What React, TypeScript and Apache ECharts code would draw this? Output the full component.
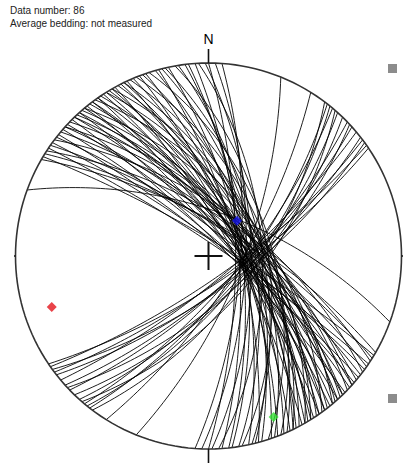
import React, { useEffect, useRef } from "react";
import * as echarts from "echarts";

// Header texts
const headerLines = ["Data number: 86", "Average bedding: not measured"];
const northLabel = "N";

// Planes, NW-SE striking family (dip direction in degrees, dip in degrees)
const familyOneDipDirections = [
  30, 31, 33, 34, 35, 36, 37, 38, 39, 40, 41, 42, 42, 43, 44, 45, 46, 46, 47, 48,
  49, 50, 50, 51, 52, 53, 54, 55, 55, 56, 57, 58, 59, 60, 60, 61, 62, 63, 64, 65,
  66, 67, 68, 69, 70, 71, 72, 74, 75, 77, 78, 80, 81, 83, 84, 86, 87, 89, 90, 92,
  94, 32, 48, 53, 58, 64, 76,
];
const familyOneDips = [
  71, 81, 67, 83, 73, 81, 64, 76, 82, 69, 80, 65, 72, 77, 64, 81, 68, 74, 65, 78,
  64, 73, 60, 77, 67, 74, 58, 70, 77, 64, 74, 60, 67, 71, 58, 76, 63, 69, 60, 73,
  59, 69, 56, 72, 62, 70, 54, 66, 72, 59, 70, 56, 63, 68, 70, 72, 59, 65, 74, 68,
  71, 72, 69, 70, 71, 67, 62,
];

// Planes, NE-SW striking family
const familyTwoDipDirections = [
  112, 122, 127, 128, 129, 130, 131, 132, 134, 136, 137, 138, 140, 142, 143, 144, 145, 146,
];
const familyTwoDips = [
  70, 72, 64, 70, 67, 72, 62, 68, 66, 72, 66, 72, 76, 71, 75, 70, 77, 74,
];

// Isolated plane
const otherDipDirections = [20];
const otherDips = [64];

// Point markers (trend, plunge)
const markerNames = ["blue", "red", "green"];
const markerTrends = [39, 252, 158];
const markerPlunges = [63.6, 9, 6];

const RAD = Math.PI / 180;

function projectLine(trend: number, plunge: number): [number, number] {
  const p = plunge * RAD;
  const t = trend * RAD;
  const n = Math.cos(p) * Math.cos(t);
  const e = Math.cos(p) * Math.sin(t);
  const z = Math.sin(p);
  return [e / (1 + z), n / (1 + z)];
}

function greatCircle(dd: number, dip: number): [number, number][] {
  const s = (dd - 90) * RAD;
  const a = dd * RAD;
  const d = dip * RAD;
  const S = [Math.cos(s), Math.sin(s), 0];
  const D = [Math.cos(d) * Math.cos(a), Math.cos(d) * Math.sin(a), Math.sin(d)];
  const pts: [number, number][] = [];
  for (let k = 0; k <= 180; k += 2) {
    const c = Math.cos(k * RAD);
    const sn = Math.sin(k * RAD);
    const n = c * S[0] + sn * D[0];
    const e = c * S[1] + sn * D[1];
    const z = Math.max(0, c * S[2] + sn * D[2]);
    pts.push([e / (1 + z), n / (1 + z)]);
  }
  return pts;
}

function primitive(): [number, number][] {
  const pts: [number, number][] = [];
  for (let k = 0; k <= 360; k += 2) pts.push([Math.sin(k * RAD), Math.cos(k * RAD)]);
  return pts;
}

export default function App() {
  const ref = useRef<HTMLDivElement>(null);
  useEffect(() => {
    if (!ref.current) return;
    const chart = echarts.init(ref.current, undefined, { renderer: "svg" });

    const dds = [...familyOneDipDirections, ...familyTwoDipDirections, ...otherDipDirections];
    const dips = [...familyOneDips, ...familyTwoDips, ...otherDips];

    const planeSeries = dds.map((dd, i) => ({
      type: "line",
      data: greatCircle(dd, dips[i]),
      showSymbol: false,
      symbol: "none",
      silent: true,
      clip: false,
      lineStyle: { color: "#000", width: 1, opacity: 0.88 },
      z: 2,
    }));

    const seg = (data: [number, number][], width: number) => ({
      type: "line",
      data,
      showSymbol: false,
      symbol: "none",
      silent: true,
      clip: false,
      lineStyle: { color: "#111", width },
      z: 3,
    });

    const tk = 14 / 193;
    const markerColors: Record<string, string> = { blue: "#1515ee", red: "#e3141c", green: "#33e033" };

    const option: any = {
      animation: false,
      grid: { left: 15.5, top: 63, width: 386, height: 386 },
      xAxis: { type: "value", min: -1, max: 1, show: false },
      yAxis: { type: "value", min: -1, max: 1, show: false },
      series: [
        ...planeSeries,
        { ...seg(primitive(), 1.6), lineStyle: { color: "#333", width: 1.6 } },
        seg([[0, 1], [0, 1 + tk]], 1.6),
        seg([[0, -1], [0, -1 - tk]], 1.6),
        seg([[-1, 0], [-1 - 15.5 / 193, 0]], 1.6),
        seg([[1, 0], [1 + 10.5 / 193, 0]], 1.6),
        seg([[-tk, 0], [tk, 0]], 2),
        seg([[0, -tk], [0, tk]], 2),
        {
          type: "scatter",
          symbol: "diamond",
          symbolSize: 10,
          silent: true,
          z: 5,
          data: markerNames.map((name, i) => ({
            value: projectLine(markerTrends[i], markerPlunges[i]),
            itemStyle: { color: markerColors[name] },
          })),
        },
      ],
      graphic: [
        {
          type: "text",
          left: 10,
          top: 4,
          style: {
            text: headerLines.join("\n"),
            font: "10px 'Liberation Sans', Arial, sans-serif",
            fill: "#222",
            lineHeight: 13,
          },
        },
        {
          type: "text",
          x: 208.5,
          y: 39,
          style: {
            text: northLabel,
            font: "14px 'Liberation Sans', Arial, sans-serif",
            fill: "#000",
            textAlign: "center",
            textVerticalAlign: "middle",
          },
        },
        { type: "rect", shape: { x: 388, y: 64, width: 9, height: 9 }, style: { fill: "#8c8c8c" } },
        { type: "rect", shape: { x: 388, y: 394, width: 9, height: 9 }, style: { fill: "#8c8c8c" } },
      ],
    };
    chart.setOption(option);
    return () => chart.dispose();
  }, []);
  return (
    <div
      ref={ref}
      style={{ position: "absolute", left: 0, top: 0, width: 412, height: 466, background: "#fff" }}
    />
  );
}
